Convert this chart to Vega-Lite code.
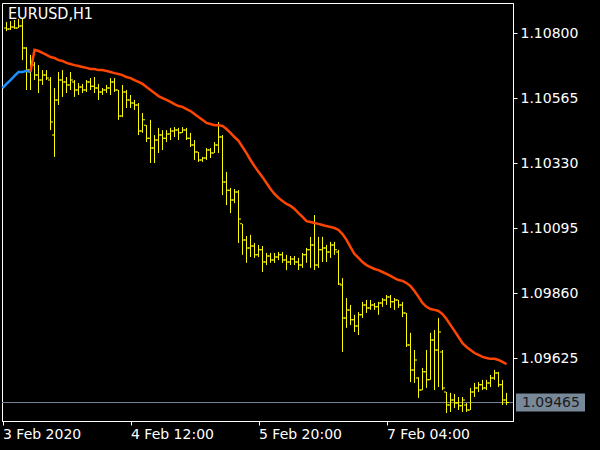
{
  "$schema": "https://vega.github.io/schema/vega-lite/v6.json",
  "width": 511,
  "height": 418,
  "autosize": {"type": "none"},
  "padding": {"left": 2, "top": 3, "right": 87, "bottom": 29},
  "background": "black",
  "config": {"view": {"stroke": "white", "strokeWidth": 1, "fill": "black"}},
  "title": {"text": "EURUSD,H1", "anchor": "start", "frame": "group", "orient": "top", "baseline": "top", "offset": -19, "dx": 6, "color": "white", "font": "DejaVu Sans Condensed", "fontSize": 16, "fontWeight": "normal"},
  "datasets": {
    "bars": [
      {"t":"2020-02-03T05:00Z","o":1.10819,"h":1.10841,"l":1.10808,"c":1.10816},
      {"t":"2020-02-03T06:00Z","o":1.10816,"h":1.10844,"l":1.10812,"c":1.10823},
      {"t":"2020-02-03T07:00Z","o":1.10823,"h":1.10848,"l":1.10816,"c":1.10819},
      {"t":"2020-02-03T08:00Z","o":1.10819,"h":1.10852,"l":1.10819,"c":1.10826},
      {"t":"2020-02-03T09:00Z","o":1.10826,"h":1.10852,"l":1.10703,"c":1.10747},
      {"t":"2020-02-03T10:00Z","o":1.10747,"h":1.10750,"l":1.10595,"c":1.10667},
      {"t":"2020-02-03T11:00Z","o":1.10667,"h":1.10722,"l":1.10595,"c":1.10696,"ma":1.10660},
      {"t":"2020-02-03T12:00Z","o":1.10685,"h":1.10696,"l":1.10631,"c":1.10649,"ma":1.10740},
      {"t":"2020-02-03T13:00Z","o":1.10649,"h":1.10685,"l":1.10584,"c":1.10631,"ma":1.10736},
      {"t":"2020-02-03T14:00Z","o":1.10631,"h":1.10667,"l":1.10613,"c":1.10649,"ma":1.10729},
      {"t":"2020-02-03T15:00Z","o":1.10649,"h":1.10667,"l":1.10631,"c":1.10638,"ma":1.10722},
      {"t":"2020-02-03T16:00Z","o":1.10631,"h":1.10642,"l":1.10450,"c":1.10479,"ma":1.10714},
      {"t":"2020-02-03T17:00Z","o":1.10432,"h":1.10602,"l":1.10353,"c":1.10559,"ma":1.10711},
      {"t":"2020-02-03T18:00Z","o":1.10559,"h":1.10660,"l":1.10541,"c":1.10631,"ma":1.10703},
      {"t":"2020-02-03T19:00Z","o":1.10631,"h":1.10667,"l":1.10570,"c":1.10624,"ma":1.10700},
      {"t":"2020-02-03T20:00Z","o":1.10624,"h":1.10642,"l":1.10584,"c":1.10613,"ma":1.10693},
      {"t":"2020-02-03T21:00Z","o":1.10613,"h":1.10660,"l":1.10595,"c":1.10631,"ma":1.10689},
      {"t":"2020-02-03T22:00Z","o":1.10624,"h":1.10631,"l":1.10570,"c":1.10595,"ma":1.10685},
      {"t":"2020-02-03T23:00Z","o":1.10595,"h":1.10620,"l":1.10577,"c":1.10606,"ma":1.10682},
      {"t":"2020-02-04T00:00Z","o":1.10606,"h":1.10617,"l":1.10584,"c":1.10595,"ma":1.10678},
      {"t":"2020-02-04T01:00Z","o":1.10595,"h":1.10631,"l":1.10588,"c":1.10624,"ma":1.10675},
      {"t":"2020-02-04T02:00Z","o":1.10624,"h":1.10638,"l":1.10595,"c":1.10609,"ma":1.10671},
      {"t":"2020-02-04T03:00Z","o":1.10609,"h":1.10642,"l":1.10584,"c":1.10602,"ma":1.10671},
      {"t":"2020-02-04T04:00Z","o":1.10602,"h":1.10617,"l":1.10559,"c":1.10588,"ma":1.10667},
      {"t":"2020-02-04T05:00Z","o":1.10588,"h":1.10602,"l":1.10577,"c":1.10595,"ma":1.10667},
      {"t":"2020-02-04T06:00Z","o":1.10595,"h":1.10613,"l":1.10584,"c":1.10602,"ma":1.10664},
      {"t":"2020-02-04T07:00Z","o":1.10602,"h":1.10638,"l":1.10577,"c":1.10624,"ma":1.10660},
      {"t":"2020-02-04T08:00Z","o":1.10624,"h":1.10638,"l":1.10588,"c":1.10595,"ma":1.10656},
      {"t":"2020-02-04T09:00Z","o":1.10595,"h":1.10595,"l":1.10487,"c":1.10501,"ma":1.10653},
      {"t":"2020-02-04T10:00Z","o":1.10501,"h":1.10613,"l":1.10497,"c":1.10588,"ma":1.10649},
      {"t":"2020-02-04T11:00Z","o":1.10588,"h":1.10595,"l":1.10530,"c":1.10559,"ma":1.10642},
      {"t":"2020-02-04T12:00Z","o":1.10559,"h":1.10577,"l":1.10530,"c":1.10548,"ma":1.10638},
      {"t":"2020-02-04T13:00Z","o":1.10548,"h":1.10559,"l":1.10523,"c":1.10541,"ma":1.10631},
      {"t":"2020-02-04T14:00Z","o":1.10541,"h":1.10548,"l":1.10432,"c":1.10447,"ma":1.10624},
      {"t":"2020-02-04T15:00Z","o":1.10447,"h":1.10512,"l":1.10440,"c":1.10487,"ma":1.10617},
      {"t":"2020-02-04T16:00Z","o":1.10468,"h":1.10468,"l":1.10407,"c":1.10421,"ma":1.10606},
      {"t":"2020-02-04T17:00Z","o":1.10421,"h":1.10487,"l":1.10331,"c":1.10385,"ma":1.10595},
      {"t":"2020-02-04T18:00Z","o":1.10385,"h":1.10432,"l":1.10331,"c":1.10414,"ma":1.10584},
      {"t":"2020-02-04T19:00Z","o":1.10414,"h":1.10458,"l":1.10367,"c":1.10432,"ma":1.10573},
      {"t":"2020-02-04T20:00Z","o":1.10432,"h":1.10450,"l":1.10378,"c":1.10421,"ma":1.10566},
      {"t":"2020-02-04T21:00Z","o":1.10421,"h":1.10450,"l":1.10407,"c":1.10436,"ma":1.10559},
      {"t":"2020-02-04T22:00Z","o":1.10436,"h":1.10458,"l":1.10414,"c":1.10447,"ma":1.10552},
      {"t":"2020-02-04T23:00Z","o":1.10447,"h":1.10461,"l":1.10425,"c":1.10450,"ma":1.10544},
      {"t":"2020-02-05T00:00Z","o":1.10450,"h":1.10458,"l":1.10414,"c":1.10440,"ma":1.10537},
      {"t":"2020-02-05T01:00Z","o":1.10440,"h":1.10461,"l":1.10440,"c":1.10450,"ma":1.10534},
      {"t":"2020-02-05T02:00Z","o":1.10450,"h":1.10458,"l":1.10414,"c":1.10421,"ma":1.10526},
      {"t":"2020-02-05T03:00Z","o":1.10421,"h":1.10440,"l":1.10389,"c":1.10396,"ma":1.10519},
      {"t":"2020-02-05T04:00Z","o":1.10396,"h":1.10414,"l":1.10342,"c":1.10371,"ma":1.10508},
      {"t":"2020-02-05T05:00Z","o":1.10371,"h":1.10371,"l":1.10335,"c":1.10342,"ma":1.10497},
      {"t":"2020-02-05T06:00Z","o":1.10342,"h":1.10353,"l":1.10335,"c":1.10349,"ma":1.10487},
      {"t":"2020-02-05T07:00Z","o":1.10349,"h":1.10385,"l":1.10342,"c":1.10378,"ma":1.10476},
      {"t":"2020-02-05T08:00Z","o":1.10378,"h":1.10385,"l":1.10349,"c":1.10367,"ma":1.10472},
      {"t":"2020-02-05T09:00Z","o":1.10367,"h":1.10407,"l":1.10367,"c":1.10396,"ma":1.10468},
      {"t":"2020-02-05T10:00Z","o":1.10396,"h":1.10479,"l":1.10367,"c":1.10425,"ma":1.10468},
      {"t":"2020-02-05T11:00Z","o":1.10425,"h":1.10432,"l":1.10215,"c":1.10262,"ma":1.10465},
      {"t":"2020-02-05T12:00Z","o":1.10262,"h":1.10299,"l":1.10179,"c":1.10233,"ma":1.10454},
      {"t":"2020-02-05T13:00Z","o":1.10233,"h":1.10241,"l":1.10150,"c":1.10197,"ma":1.10440},
      {"t":"2020-02-05T14:00Z","o":1.10197,"h":1.10237,"l":1.10186,"c":1.10226,"ma":1.10425},
      {"t":"2020-02-05T15:00Z","o":1.10226,"h":1.10233,"l":1.10042,"c":1.10129,"ma":1.10411},
      {"t":"2020-02-05T16:00Z","o":1.10111,"h":1.10111,"l":1.09999,"c":1.10053,"ma":1.10389},
      {"t":"2020-02-05T17:00Z","o":1.10053,"h":1.10067,"l":1.09970,"c":1.10024,"ma":1.10367},
      {"t":"2020-02-05T18:00Z","o":1.10024,"h":1.10071,"l":1.09991,"c":1.10031,"ma":1.10342},
      {"t":"2020-02-05T19:00Z","o":1.10031,"h":1.10042,"l":1.09988,"c":1.09999,"ma":1.10320},
      {"t":"2020-02-05T20:00Z","o":1.09999,"h":1.10035,"l":1.09991,"c":1.10017,"ma":1.10299},
      {"t":"2020-02-05T21:00Z","o":1.10017,"h":1.10031,"l":1.09937,"c":1.09973,"ma":1.10280},
      {"t":"2020-02-05T22:00Z","o":1.09973,"h":1.10006,"l":1.09962,"c":1.09995,"ma":1.10259},
      {"t":"2020-02-05T23:00Z","o":1.09995,"h":1.10006,"l":1.09970,"c":1.09980,"ma":1.10237},
      {"t":"2020-02-06T00:00Z","o":1.09980,"h":1.10006,"l":1.09970,"c":1.09991,"ma":1.10219},
      {"t":"2020-02-06T01:00Z","o":1.09991,"h":1.10009,"l":1.09980,"c":1.09999,"ma":1.10205},
      {"t":"2020-02-06T02:00Z","o":1.09999,"h":1.10009,"l":1.09970,"c":1.09980,"ma":1.10194},
      {"t":"2020-02-06T03:00Z","o":1.09980,"h":1.09999,"l":1.09944,"c":1.09973,"ma":1.10183},
      {"t":"2020-02-06T04:00Z","o":1.09973,"h":1.09995,"l":1.09962,"c":1.09984,"ma":1.10176},
      {"t":"2020-02-06T05:00Z","o":1.09984,"h":1.09995,"l":1.09962,"c":1.09973,"ma":1.10165},
      {"t":"2020-02-06T06:00Z","o":1.09973,"h":1.09988,"l":1.09944,"c":1.09962,"ma":1.10150},
      {"t":"2020-02-06T07:00Z","o":1.09962,"h":1.10006,"l":1.09952,"c":1.09999,"ma":1.10136},
      {"t":"2020-02-06T08:00Z","o":1.09999,"h":1.10024,"l":1.09970,"c":1.10017,"ma":1.10121},
      {"t":"2020-02-06T09:00Z","o":1.10017,"h":1.10064,"l":1.09952,"c":1.10035,"ma":1.10118},
      {"t":"2020-02-06T10:00Z","o":1.10035,"h":1.10143,"l":1.09944,"c":1.09962,"ma":1.10114},
      {"t":"2020-02-06T11:00Z","o":1.09962,"h":1.10064,"l":1.09952,"c":1.10017,"ma":1.10111},
      {"t":"2020-02-06T12:00Z","o":1.10017,"h":1.10064,"l":1.09973,"c":1.10024,"ma":1.10107},
      {"t":"2020-02-06T13:00Z","o":1.10024,"h":1.10035,"l":1.09973,"c":1.10009,"ma":1.10103},
      {"t":"2020-02-06T14:00Z","o":1.10009,"h":1.10046,"l":1.09988,"c":1.10035,"ma":1.10100},
      {"t":"2020-02-06T15:00Z","o":1.10035,"h":1.10046,"l":1.09999,"c":1.10017,"ma":1.10096},
      {"t":"2020-02-06T16:00Z","o":1.10009,"h":1.10017,"l":1.09890,"c":1.09894,"ma":1.10089},
      {"t":"2020-02-06T17:00Z","o":1.09890,"h":1.09915,"l":1.09648,"c":1.09771,"ma":1.10074},
      {"t":"2020-02-06T18:00Z","o":1.09771,"h":1.09843,"l":1.09735,"c":1.09800,"ma":1.10053},
      {"t":"2020-02-06T19:00Z","o":1.09800,"h":1.09818,"l":1.09745,"c":1.09764,"ma":1.10027},
      {"t":"2020-02-06T20:00Z","o":1.09764,"h":1.09782,"l":1.09720,"c":1.09742,"ma":1.10002},
      {"t":"2020-02-06T21:00Z","o":1.09742,"h":1.09792,"l":1.09709,"c":1.09782,"ma":1.09988},
      {"t":"2020-02-06T22:00Z","o":1.09782,"h":1.09829,"l":1.09771,"c":1.09818,"ma":1.09973},
      {"t":"2020-02-06T23:00Z","o":1.09818,"h":1.09836,"l":1.09789,"c":1.09807,"ma":1.09962},
      {"t":"2020-02-07T00:00Z","o":1.09807,"h":1.09836,"l":1.09800,"c":1.09818,"ma":1.09955},
      {"t":"2020-02-07T01:00Z","o":1.09818,"h":1.09825,"l":1.09800,"c":1.09811,"ma":1.09948},
      {"t":"2020-02-07T02:00Z","o":1.09811,"h":1.09829,"l":1.09782,"c":1.09825,"ma":1.09944},
      {"t":"2020-02-07T03:00Z","o":1.09825,"h":1.09843,"l":1.09811,"c":1.09836,"ma":1.09937},
      {"t":"2020-02-07T04:00Z","o":1.09836,"h":1.09854,"l":1.09818,"c":1.09847,"ma":1.09930},
      {"t":"2020-02-07T05:00Z","o":1.09847,"h":1.09854,"l":1.09807,"c":1.09829,"ma":1.09923},
      {"t":"2020-02-07T06:00Z","o":1.09829,"h":1.09843,"l":1.09800,"c":1.09836,"ma":1.09915},
      {"t":"2020-02-07T07:00Z","o":1.09836,"h":1.09836,"l":1.09807,"c":1.09818,"ma":1.09908},
      {"t":"2020-02-07T08:00Z","o":1.09818,"h":1.09829,"l":1.09774,"c":1.09789,"ma":1.09905},
      {"t":"2020-02-07T09:00Z","o":1.09789,"h":1.09789,"l":1.09666,"c":1.09673,"ma":1.09897},
      {"t":"2020-02-07T10:00Z","o":1.09673,"h":1.09717,"l":1.09539,"c":1.09583,"ma":1.09886},
      {"t":"2020-02-07T11:00Z","o":1.09583,"h":1.09655,"l":1.09536,"c":1.09619,"ma":1.09868},
      {"t":"2020-02-07T12:00Z","o":1.09554,"h":1.09557,"l":1.09482,"c":1.09510,"ma":1.09847},
      {"t":"2020-02-07T13:00Z","o":1.09510,"h":1.09590,"l":1.09510,"c":1.09576,"ma":1.09825},
      {"t":"2020-02-07T14:00Z","o":1.09576,"h":1.09655,"l":1.09518,"c":1.09547,"ma":1.09811},
      {"t":"2020-02-07T15:00Z","o":1.09547,"h":1.09717,"l":1.09547,"c":1.09691,"ma":1.09803},
      {"t":"2020-02-07T16:00Z","o":1.09691,"h":1.09727,"l":1.09510,"c":1.09655,"ma":1.09800},
      {"t":"2020-02-07T17:00Z","o":1.09655,"h":1.09771,"l":1.09521,"c":1.09720,"ma":1.09796},
      {"t":"2020-02-07T18:00Z","o":1.09648,"h":1.09655,"l":1.09510,"c":1.09518,"ma":1.09785},
      {"t":"2020-02-07T19:00Z","o":1.09503,"h":1.09503,"l":1.09427,"c":1.09456,"ma":1.09767},
      {"t":"2020-02-07T20:00Z","o":1.09456,"h":1.09500,"l":1.09431,"c":1.09474,"ma":1.09745},
      {"t":"2020-02-07T21:00Z","o":1.09474,"h":1.09496,"l":1.09445,"c":1.09463,"ma":1.09724},
      {"t":"2020-02-07T22:00Z","o":1.09463,"h":1.09485,"l":1.09438,"c":1.09453,"ma":1.09702},
      {"t":"2020-02-07T23:00Z","o":1.09453,"h":1.09485,"l":1.09431,"c":1.09474,"ma":1.09680},
      {"t":"2020-02-08T00:00Z","o":1.09456,"h":1.09463,"l":1.09431,"c":1.09438,"ma":1.09666},
      {"t":"2020-02-08T01:00Z","o":1.09438,"h":1.09518,"l":1.09438,"c":1.09503,"ma":1.09655},
      {"t":"2020-02-08T02:00Z","o":1.09503,"h":1.09536,"l":1.09485,"c":1.09518,"ma":1.09644},
      {"t":"2020-02-08T03:00Z","o":1.09518,"h":1.09539,"l":1.09503,"c":1.09529,"ma":1.09637},
      {"t":"2020-02-08T04:00Z","o":1.09529,"h":1.09547,"l":1.09510,"c":1.09518,"ma":1.09630},
      {"t":"2020-02-08T05:00Z","o":1.09518,"h":1.09547,"l":1.09510,"c":1.09536,"ma":1.09626},
      {"t":"2020-02-08T06:00Z","o":1.09536,"h":1.09565,"l":1.09521,"c":1.09554,"ma":1.09623},
      {"t":"2020-02-08T07:00Z","o":1.09554,"h":1.09583,"l":1.09547,"c":1.09572,"ma":1.09623},
      {"t":"2020-02-08T08:00Z","o":1.09572,"h":1.09576,"l":1.09521,"c":1.09529,"ma":1.09619},
      {"t":"2020-02-08T09:00Z","o":1.09529,"h":1.09547,"l":1.09456,"c":1.09474,"ma":1.09612},
      {"t":"2020-02-08T10:00Z","o":1.09474,"h":1.09500,"l":1.09456,"c":1.09465,"ma":1.09604}
    ],
    "blue": [
      {"t":"2020-02-03T04:00Z","ma":1.10602},
      {"t":"2020-02-03T05:00Z","ma":1.10617},
      {"t":"2020-02-03T06:00Z","ma":1.10631},
      {"t":"2020-02-03T07:00Z","ma":1.10646},
      {"t":"2020-02-03T08:00Z","ma":1.10660},
      {"t":"2020-02-03T09:00Z","ma":1.10660},
      {"t":"2020-02-03T10:00Z","ma":1.10664},
      {"t":"2020-02-03T11:00Z","ma":1.10660}
    ],
    "bid": [{"price": 1.09465, "label": "1.09465"}]
  },
  "layer": [
    {
      "data": {"name": "bid"},
      "mark": {"type": "rule", "color": "#778899", "strokeWidth": 1},
      "encoding": {
        "y": {"field": "price", "type": "quantitative", "scale": {"domain": [1.093983, 1.1090955], "zero": false, "nice": false},
          "axis": {"title": null, "orient": "right", "grid": false,
            "values": [1.09625, 1.0986, 1.10095, 1.1033, 1.10565, 1.108],
            "format": ".5f", "labelAlign": "left", "labelBaseline": "middle", "labelPadding": 3, "labelFlush": false, "labelOverlap": false, "labelBound": false,
            "labelColor": "white", "labelFont": "DejaVu Sans", "labelFontSize": 14,
            "tickColor": "white", "tickSize": 4, "domainColor": "white"}}
      }
    },
    {
      "data": {"name": "bars"},
      "mark": {"type": "rule", "color": "#ffff00", "strokeWidth": 1},
      "encoding": {
        "x": {"field": "t", "type": "temporal",
          "scale": {"type": "utc", "nice": false, "domain": [{"year": 2020, "month": 2, "date": 3, "hours": 3, "minutes": 52, "seconds": 30, "utc": true}, {"year": 2020, "month": 2, "date": 8, "hours": 11, "minutes": 37, "seconds": 30, "utc": true}]},
          "axis": {"title": null, "orient": "bottom", "grid": false,
            "values": [{"year": 2020, "month": 2, "date": 3, "hours": 4, "utc": true}, {"year": 2020, "month": 2, "date": 4, "hours": 12, "utc": true}, {"year": 2020, "month": 2, "date": 5, "hours": 20, "utc": true}, {"year": 2020, "month": 2, "date": 7, "hours": 4, "utc": true}],
            "labelExpr": "datum.value < 1580710000000 ? '3 Feb 2020' : utcFormat(datum.value, '%-d %b %H:%M')",
            "labelAlign": "left", "labelBaseline": "top", "labelPadding": 2, "labelFlush": false, "labelOverlap": false, "labelBound": false,
            "labelColor": "white", "labelFont": "DejaVu Sans", "labelFontSize": 14,
            "tickColor": "white", "tickSize": 4, "domainColor": "white"}},
        "y": {"field": "h", "type": "quantitative",
          "scale": {"domain": [1.093983, 1.1090955], "zero": false, "nice": false}},
        "y2": {"field": "l"}
      }
    },
    {
      "data": {"name": "bars"},
      "mark": {"type": "tick", "orient": "horizontal", "color": "#ffff00", "size": 2, "thickness": 1, "xOffset": -1.5, "opacity": 1},
      "encoding": {
        "x": {"field": "t", "type": "temporal"},
        "y": {"field": "o", "type": "quantitative", "scale": {"domain": [1.093983, 1.1090955], "zero": false, "nice": false}}
      }
    },
    {
      "data": {"name": "bars"},
      "mark": {"type": "tick", "orient": "horizontal", "color": "#ffff00", "size": 2, "thickness": 1, "xOffset": 1.5, "opacity": 1},
      "encoding": {
        "x": {"field": "t", "type": "temporal"},
        "y": {"field": "c", "type": "quantitative", "scale": {"domain": [1.093983, 1.1090955], "zero": false, "nice": false}}
      }
    },
    {
      "data": {"name": "blue"},
      "mark": {"type": "line", "color": "#1e90ff", "strokeWidth": 2.5},
      "encoding": {
        "x": {"field": "t", "type": "temporal"},
        "y": {"field": "ma", "type": "quantitative", "scale": {"domain": [1.093983, 1.1090955], "zero": false, "nice": false}}
      }
    },
    {
      "data": {"name": "bars"},
      "mark": {"type": "line", "color": "#ff4500", "strokeWidth": 2.5},
      "encoding": {
        "x": {"field": "t", "type": "temporal"},
        "y": {"field": "ma", "type": "quantitative", "scale": {"domain": [1.093983, 1.1090955], "zero": false, "nice": false}}
      }
    },
    {
      "data": {"name": "bid"},
      "mark": {"type": "rect", "color": "#778899", "xOffset": 3, "x2Offset": 72, "yOffset": -9, "y2Offset": 9},
      "encoding": {
        "x": {"datum": {"year": 2020, "month": 2, "date": 8, "hours": 11, "minutes": 37, "seconds": 30, "utc": true}, "type": "temporal"},
        "x2": {"datum": {"year": 2020, "month": 2, "date": 8, "hours": 11, "minutes": 37, "seconds": 30, "utc": true}},
        "y": {"field": "price", "type": "quantitative", "scale": {"domain": [1.093983, 1.1090955], "zero": false, "nice": false}},
        "y2": {"field": "price"}
      }
    },
    {
      "data": {"name": "bid"},
      "mark": {"type": "text", "color": "#1a1a1a", "font": "DejaVu Sans", "fontSize": 14, "align": "left", "baseline": "middle", "dx": 9},
      "encoding": {
        "x": {"datum": {"year": 2020, "month": 2, "date": 8, "hours": 11, "minutes": 37, "seconds": 30, "utc": true}, "type": "temporal"},
        "y": {"field": "price", "type": "quantitative", "scale": {"domain": [1.093983, 1.1090955], "zero": false, "nice": false}},
        "text": {"field": "label"}
      }
    }
  ]
}
